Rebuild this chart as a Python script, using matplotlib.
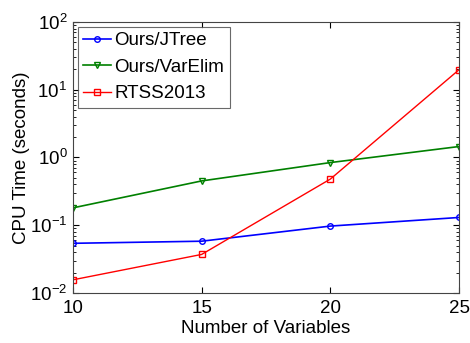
import matplotlib
matplotlib.use('Agg')
import matplotlib.pyplot as plt

plt.rcParams['font.family'] = ['Liberation Sans', 'DejaVu Sans']

nvars = [10, 15, 20, 25]
jtree = [0.054, 0.058, 0.097, 0.13]
varelim = [0.18, 0.45, 0.84, 1.45]
rtss = [0.0156, 0.037, 0.48, 19.8]

fig = plt.figure(figsize=(4.7, 3.43), dpi=100)
ax = fig.add_axes([0.155, 0.146, 0.822, 0.79])

ax.plot(nvars, jtree, color='b', marker='o', mfc='none', ms=4, lw=1.2, label='Ours/JTree')
ax.plot(nvars, varelim, color='g', marker='v', mfc='none', ms=5, lw=1.2, label='Ours/VarElim')
ax.plot(nvars, rtss, color='r', marker='s', mfc='none', ms=5, lw=1.0, label='RTSS2013')

ax.set_yscale('log')
ax.set_xlim(10, 25)
ax.set_ylim(1e-2, 1e2)
ax.set_xticks(nvars)
ax.tick_params(which='both', direction='in', top=True, right=True, labelsize=13.5)
ax.tick_params(which='major', length=4)
ax.tick_params(which='minor', length=2)
ax.tick_params(axis='x', pad=5)
ax.tick_params(axis='y', pad=4)
for s in ax.spines.values():
    s.set_color('#444444')
    s.set_linewidth(0.8)

ax.set_xlabel('Number of Variables', fontsize=13.5, labelpad=2)
ax.set_ylabel('CPU Time (seconds)', fontsize=13.5, labelpad=0)

leg = ax.legend(loc='upper left', fontsize=13.5, handlelength=1.5, handletextpad=0.15,
                borderaxespad=0.25, borderpad=0.3, labelspacing=0.5, fancybox=False)
leg.get_frame().set_edgecolor('#444444')
leg.get_frame().set_linewidth(0.8)

fig.savefig('out.png', dpi=100)
